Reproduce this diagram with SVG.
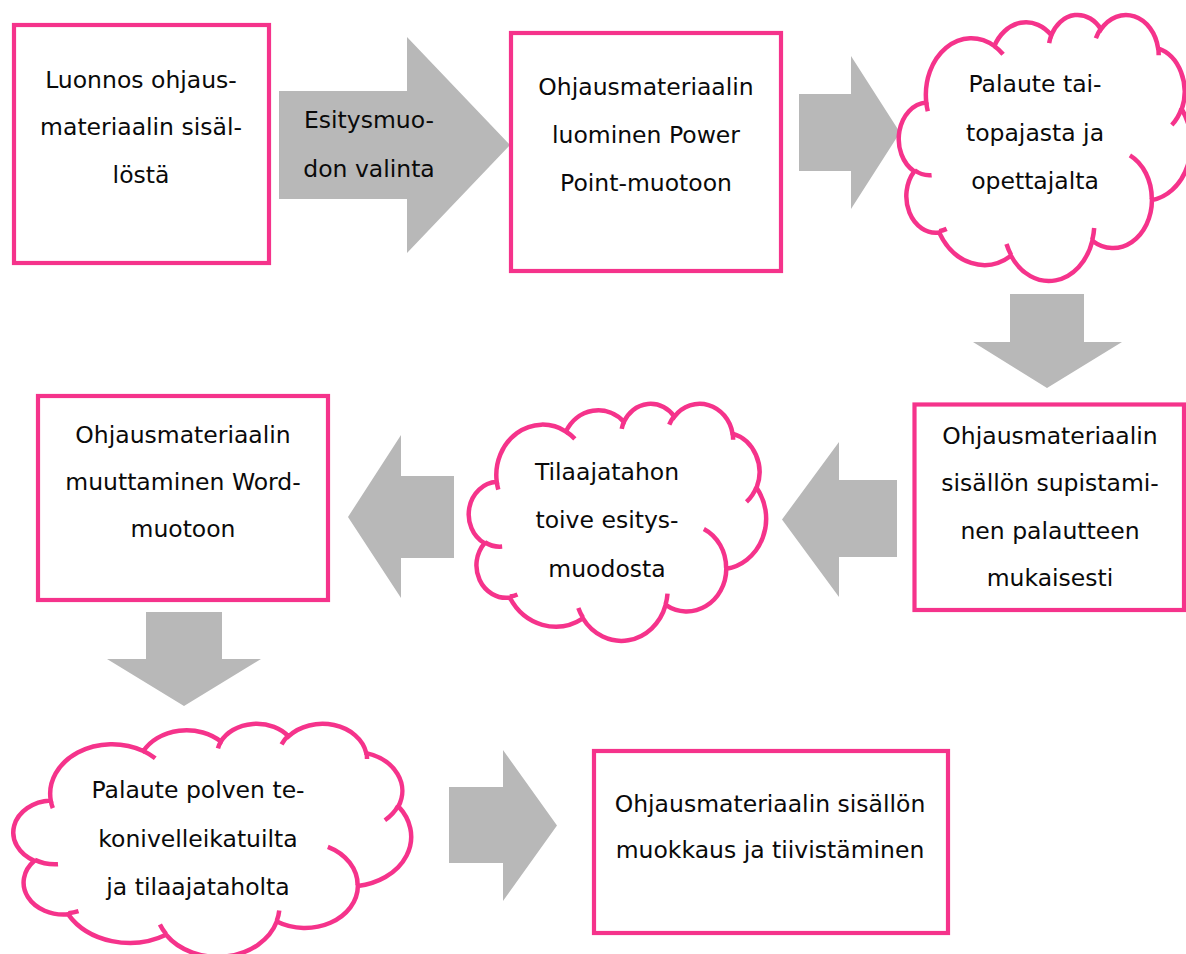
<svg xmlns="http://www.w3.org/2000/svg" xmlns:xlink="http://www.w3.org/1999/xlink" width="1186" height="954" viewBox="0 0 1186 954">
<style>
.box{fill:#fff;stroke:#F5338B;stroke-width:4.2}
.cloud{fill:#fff;stroke:#F5338B;stroke-width:4.5;vector-effect:non-scaling-stroke}
.cin{fill:none;stroke:#F5338B;stroke-width:4.5;vector-effect:non-scaling-stroke}
.arr{fill:#B8B8B8;stroke:none}
.t{font-family:"DejaVu Sans","Liberation Sans",sans-serif;font-size:23.5px;fill:#0a0a0a;text-anchor:middle}
</style>
<defs>
<path id="cloudOuter" class="cloud" d="M 39 143.7 A 67.53 91.9 0 0 1 140.05 52.02 A 53.33 72.67 0 0 1 224.58 34.35 A 43.65 59.45 0 0 1 298.35 24.85 A 48.57 65.95 0 0 1 383.2 55.8 A 53.33 72.73 0 0 1 418.21 154.64 A 67.75 92.2 0 0 1 374.05 302.05 A 57.85 78.67 0 0 1 285.57 368.15 A 67.52 92.15 0 0 1 164.82 392.67 A 77.2 105.43 0 0 1 58.06 354.74 A 43.6 59.18 0 0 1 21.15 255.52 A 43.45 59.45 0 0 1 39 143.7 Z"/>
<path id="cloudInner" class="cin" d="M 46.93 261.77 A 43.45 59.45 0 0 1 21.6 253.8 M 69.28 348.99 A 43.6 59.18 0 0 1 58.2 352.81 M 164.78 390.9 A 67.52 92.15 0 0 1 158.1 373.49 M 288.27 347.51 A 67.52 92.15 0 0 1 285.6 366.6 M 341.29 229.54 A 57.85 78.67 0 0 1 373.8 300.9 M 417.98 153.54 A 53.33 72.73 0 0 1 403.5 180.3 M 383.24 54.26 A 48.57 65.95 0 0 1 384.01 66.9 M 290.78 39.52 A 48.57 65.95 0 0 1 298.2 23.38 M 221.41 47.2 A 43.65 59.45 0 0 1 225.0 33.3 M 140 51.92 A 67.53 91.9 0 0 1 153.02 65.43 M 41.27 157.89 A 67.53 91.9 0 0 1 39.0 143.7"/>
</defs>

<g id="connectors">
<polygon id="arrow1" class="arr" points="279,91 407,91 407,37 510,145 407,253 407,199 279,199"/>
<text class="t" x="369" y="128">Esitysmuo-</text>
<text class="t" x="369" y="177">don valinta</text>
<polygon id="arrow2" class="arr" points="799,94 851,94 851,56 900,132.5 851,209 851,171 799,171"/>
<polygon id="arrow3" class="arr" points="1010,294 1084,294 1084,342 1122,342 1047,388 973,342 1010,342"/>
<polygon id="arrow4" class="arr" points="897,480 839,480 839,442 782,519.5 839,597 839,557 897,557"/>
<polygon id="arrow5" class="arr" points="454,476 401,476 401,435 348,517 401,598 401,558 454,558"/>
<polygon id="arrow6" class="arr" points="146,612 222,612 222,659 261,659 184,706 107,659 146,659"/>
<polygon id="arrow7" class="arr" points="449,787 503,787 503,750 557,825.5 503,901 503,863 449,863"/>
</g>

<g id="node1">
<rect class="box" x="14" y="25" width="255" height="238"/>
<text class="t" x="141" y="88">Luonnos ohjaus-</text>
<text class="t" x="141" y="135">materiaalin sisäl-</text>
<text class="t" x="141" y="183">löstä</text>
</g>

<g id="node2">
<rect class="box" x="511" y="33" width="270" height="238"/>
<text class="t" x="646" y="95">Ohjausmateriaalin</text>
<text class="t" x="646" y="143">luominen Power</text>
<text class="t" x="646" y="191">Point-muotoon</text>
</g>

<g id="node3">
<g transform="translate(900,14) scale(0.67361,0.61574)">
<use xlink:href="#cloudOuter"/>
<use xlink:href="#cloudInner"/>
</g>
<text class="t" x="1035" y="92">Palaute tai-</text>
<text class="t" x="1035" y="140.5">topajasta ja</text>
<text class="t" x="1035" y="189">opettajalta</text>
</g>

<g id="node4">
<rect class="box" x="914.5" y="404.5" width="269.5" height="205.5"/>
<text class="t" x="1050" y="444">Ohjausmateriaalin</text>
<text class="t" x="1050" y="491">sisällön supistami-</text>
<text class="t" x="1050" y="539">nen palautteen</text>
<text class="t" x="1050" y="586">mukaisesti</text>
</g>

<g id="node5">
<g transform="translate(470,403) scale(0.68519,0.54861)">
<use xlink:href="#cloudOuter"/>
<use xlink:href="#cloudInner"/>
</g>
<text class="t" x="607" y="480">Tilaajatahon</text>
<text class="t" x="607" y="528">toive esitys-</text>
<text class="t" x="607" y="577">muodosta</text>
</g>

<g id="node6">
<rect class="box" x="38" y="396" width="290" height="204"/>
<text class="t" x="183" y="443">Ohjausmateriaalin</text>
<text class="t" x="183" y="490">muuttaminen Word-</text>
<text class="t" x="183" y="537">muotoon</text>
</g>

<g id="node7">
<g transform="translate(15,723) scale(0.91667,0.53935)">
<use xlink:href="#cloudOuter"/>
<use xlink:href="#cloudInner"/>
</g>
<text class="t" x="198" y="798">Palaute polven te-</text>
<text class="t" x="198" y="847">konivelleikatuilta</text>
<text class="t" x="198" y="895">ja tilaajataholta</text>
</g>

<g id="node8">
<rect class="box" x="594" y="751" width="354" height="182"/>
<text class="t" x="770" y="812">Ohjausmateriaalin sisällön</text>
<text class="t" x="770" y="858">muokkaus ja tiivistäminen</text>
</g>
</svg>
